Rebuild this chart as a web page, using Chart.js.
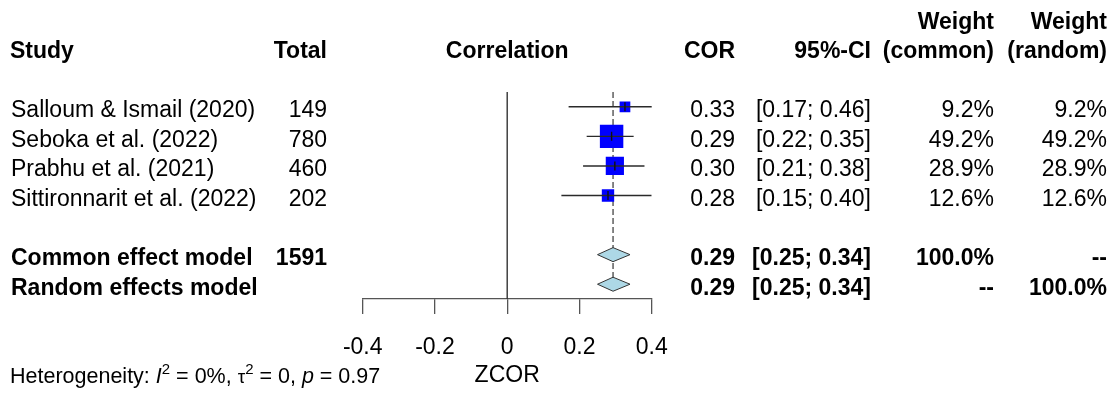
<!DOCTYPE html>
<html><head><meta charset="utf-8">
<script src="https://cdn.jsdelivr.net/npm/chart.js@4/dist/chart.umd.min.js"></script>
<style>html,body{margin:0;padding:0;background:#fff;overflow:hidden}canvas{display:block}</style>
</head><body>
<canvas id="c" width="1116" height="394"></canvas>
<script>
// ---- data ----
const studies = ['Salloum & Ismail (2020)', 'Seboka et al. (2022)', 'Prabhu et al. (2021)', 'Sittironnarit et al. (2022)'];
const totals = [149, 780, 460, 202];
const cor = [0.326, 0.289, 0.298, 0.279];
const ciLow = [0.17, 0.22, 0.21, 0.15];
const ciHigh = [0.46, 0.35, 0.38, 0.40];
const weightCommon = [9.2, 49.2, 28.9, 12.6];
const weightRandom = [9.2, 49.2, 28.9, 12.6];
const summaryNames = ['Common effect model', 'Random effects model'];
const summaryTotal = ['1591', ''];
const summaryEst = [0.293, 0.293];
const summaryLow = [0.25, 0.25];
const summaryHigh = [0.34, 0.34];
const summaryWCommon = ['100.0%', '--'];
const summaryWRandom = ['--', '100.0%'];
const xTicks = [-0.4, -0.2, 0, 0.2, 0.4];
const xTickLabels = ['-0.4', '-0.2', '0', '0.2', '0.4'];
const studyRows = [1, 2, 3, 4];
const summaryRows = [6, 7];

// ---- styling ----
const FF = '"Liberation Sans", Arial, Helvetica, sans-serif';
const FS = 23;
const FS_HET = 21.5;
const DIAMOND_H = 0.237; // half height in row units
const COL = {study: 11, total: 327, cor: 735, ci: 871, wc: 994, wr: 1107};

const datasets = [];
// zero line
datasets.push({data: [{x: 0, y: 0.5}, {x: 0, y: 7.5}], showLine: true, borderColor: '#333', borderWidth: 1.4, pointRadius: 0, order: 100});
// dashed summary line
datasets.push({data: [{x: summaryEst[0], y: 0.5}, {x: summaryEst[0], y: summaryRows[1]}], showLine: true, borderColor: '#444', borderWidth: 1.3, borderDash: [6, 3], pointRadius: 0, order: 90});
// squares
datasets.push({
  data: cor.map((v, i) => ({x: v, y: studyRows[i]})), showLine: false,
  pointStyle: 'rect', backgroundColor: '#0000ff', borderColor: '#0000ff', borderWidth: 0,
  pointRadius: ctx => (3.2 * Math.sqrt(weightCommon[ctx.dataIndex]) + 1) / (2 * Math.SQRT1_2),
  order: 50
});
// CI lines
ciLow.forEach((lo, i) => {
  datasets.push({data: [{x: lo, y: studyRows[i]}, {x: ciHigh[i], y: studyRows[i]}], showLine: true, borderColor: '#2a2a2a', borderWidth: 1.4, pointRadius: 0, order: 40});
});
// estimate ticks
datasets.push({data: cor.map((v, i) => ({x: v, y: studyRows[i]})), showLine: false, pointStyle: 'line', rotation: 90, pointRadius: 4.5, borderColor: '#111', borderWidth: 1.4, order: 30});
// diamonds
summaryEst.forEach((e, i) => {
  const r = summaryRows[i];
  datasets.push({
    data: [{x: summaryLow[i], y: r}, {x: e, y: r - DIAMOND_H}, {x: summaryHigh[i], y: r}, {x: e, y: r + DIAMOND_H}, {x: summaryLow[i], y: r}],
    showLine: true, fill: 'shape', backgroundColor: '#add8e6', borderColor: '#333', borderWidth: 1, pointRadius: 0, tension: 0, order: 20
  });
});

const textPlugin = {
  id: 'forestText',
  afterDraw(chart) {
    const ctx = chart.ctx;
    const ys = chart.scales.y, xs = chart.scales.x;
    const rowY = r => ys.getPixelForValue(r) + 10.5;
    ctx.save();
    ctx.fillStyle = '#000';
    ctx.textBaseline = 'alphabetic';
    const setF = (bold, size, italic) => { ctx.font = (italic ? 'italic ' : '') + (bold ? 'bold ' : '') + (size || FS) + 'px ' + FF; };
    const put = (s, x, y, align, bold) => { setF(bold); ctx.textAlign = align; ctx.fillText(s, x, y); };
    // headers
    put('Weight', COL.wc, 28.5, 'right', true);
    put('Weight', COL.wr, 28.5, 'right', true);
    const hy = 58.3;
    put('Study', COL.study - 1, hy, 'left', true);
    put('Total', COL.total, hy, 'right', true);
    put('Correlation', xs.getPixelForValue(0), hy, 'center', true);
    put('COR', COL.cor, hy, 'right', true);
    put('95%-CI', COL.ci, hy, 'right', true);
    put('(common)', COL.wc, hy, 'right', true);
    put('(random)', COL.wr, hy, 'right', true);
    // studies
    studies.forEach((s, i) => {
      const y = rowY(studyRows[i]);
      put(s, COL.study, y, 'left', false);
      put(String(totals[i]), COL.total, y, 'right', false);
      put(cor[i].toFixed(2), COL.cor, y, 'right', false);
      put('[' + ciLow[i].toFixed(2) + '; ' + ciHigh[i].toFixed(2) + ']', COL.ci, y, 'right', false);
      put(weightCommon[i].toFixed(1) + '%', COL.wc, y, 'right', false);
      put(weightRandom[i].toFixed(1) + '%', COL.wr, y, 'right', false);
    });
    summaryNames.forEach((s, i) => {
      const y = rowY(summaryRows[i]);
      put(s, COL.study, y, 'left', true);
      put(summaryTotal[i], COL.total, y, 'right', true);
      put(summaryEst[i].toFixed(2), COL.cor, y, 'right', true);
      put('[' + summaryLow[i].toFixed(2) + '; ' + summaryHigh[i].toFixed(2) + ']', COL.ci, y, 'right', true);
      put(summaryWCommon[i], COL.wc, y, 'right', true);
      put(summaryWRandom[i], COL.wr, y, 'right', true);
    });
    // heterogeneity
    let x = 10; const by = 383;
    ctx.textAlign = 'left';
    const seg = (s, opts) => {
      opts = opts || {};
      setF(false, opts.size || FS_HET, opts.italic);
      ctx.fillText(s, x, by - (opts.rise || 0));
      x += ctx.measureText(s).width;
    };
    seg('Heterogeneity: ');
    seg('I', {italic: true});
    seg('2', {size: 15, rise: 9});
    seg(' = 0%, ');
    seg('\u03C4', {size: 19});
    seg('2', {size: 15, rise: 9});
    seg(' = 0, ');
    seg('p', {italic: true});
    seg(' = 0.97');
    ctx.restore();
  }
};

new Chart(document.getElementById('c'), {
  type: 'scatter',
  data: {datasets},
  options: {
    responsive: false, animation: false, events: [],
    layout: {padding: {left: 362.7, right: 464.3, top: 92, bottom: 0}},
    plugins: {legend: {display: false}, tooltip: {enabled: false}},
    scales: {
      x: {
        type: 'linear', min: -0.4, max: 0.4,
        afterBuildTicks: s => { s.ticks = xTicks.map(v => ({value: v})); },
        afterFit: s => { s.height = 95; },
        ticks: {callback: (v, i) => xTickLabels[i], font: {family: FF, size: FS}, color: '#000', padding: 19.5, maxRotation: 0, autoSkip: false},
        grid: {drawOnChartArea: false, drawTicks: true, tickLength: 15, color: '#555', lineWidth: 1.3},
        border: {display: true, color: '#555', width: 1.3},
        title: {display: true, text: 'ZCOR', font: {family: FF, size: FS}, color: '#000', padding: {top: 0, bottom: 4.9}}
      },
      y: {type: 'linear', min: 0.5, max: 7.5, reverse: true, display: false}
    }
  },
  plugins: [textPlugin]
});
</script>
</body></html>
